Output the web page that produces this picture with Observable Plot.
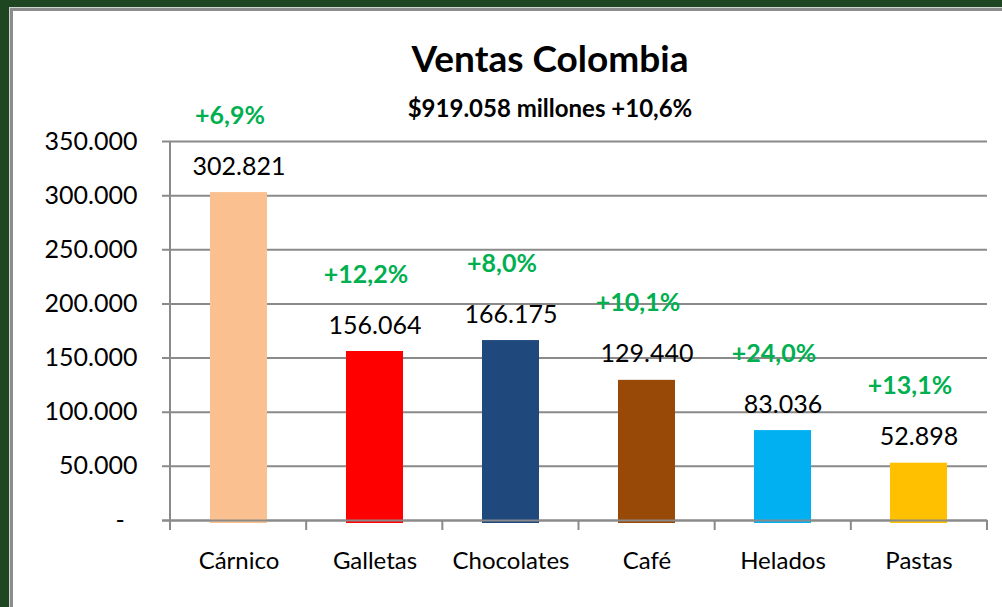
<!DOCTYPE html>
<html><head><meta charset="utf-8">
<script src="https://cdn.jsdelivr.net/npm/d3@7"></script>
<script src="https://cdn.jsdelivr.net/npm/@observablehq/plot@0.6"></script>
<style>
html,body{margin:0;padding:0;width:100%;height:100%;overflow:hidden;background:#fff;font-family:Lato,sans-serif;}
#bandTop{position:absolute;left:0;top:0;width:1200px;height:7px;background:#1e4621;}
#bandLeft{position:absolute;left:0;top:0;width:9px;height:800px;background:#1e4621;}
#panel{position:absolute;left:9px;top:7px;width:1100px;height:700px;background:#fff;border-left:1px solid #cfd6cf;border-top:1px solid #cfd6cf;}
#inner{position:absolute;left:0;top:0;right:0;bottom:0;border-left:3px solid #8c8c8c;border-top:3px solid #8c8c8c;}
#chart{position:absolute;left:0;top:0;width:989px;}
#chart svg{max-width:none;}
.t{position:absolute;left:550px;transform:translateX(-50%);white-space:nowrap;font-weight:bold;color:#000;line-height:1;z-index:2;}
#title{top:39px;font-size:37px;}
#subtitle{top:96px;font-size:24px;}
</style></head>
<body>
<div id="bandTop"></div><div id="bandLeft"></div>
<div id="panel"><div id="inner"><div id="chart"></div></div></div>
<div class="t" id="title"></div>
<div class="t" id="subtitle"></div>
<script>
const categories = ["Cárnico", "Galletas", "Chocolates", "Café", "Helados", "Pastas"];
const sales = [302821, 156064, 166175, 129440, 83036, 52898];
const growth = [6.9, 12.2, 8.0, 10.1, 24.0, 13.1];
const yTicks = [0, 50000, 100000, 150000, 200000, 250000, 300000, 350000];
const titleText = "Ventas Colombia";
const totalSales = 919058;
const totalGrowth = 10.6;

const barColors = ["#FAC090", "#FF0000", "#1F497D", "#984807", "#00B0F0", "#FFC000"];
const gray = "#8a8a8a";
const green = "#00B050";

const locale = d3.formatLocale({decimal: ",", thousands: ".", grouping: [3], currency: ["$", ""]});
const fmtInt = locale.format(",d");
const fmtPct = v => locale.format("+.1f")(v) + "%";

document.getElementById("title").textContent = titleText;
document.getElementById("subtitle").textContent = "$" + fmtInt(totalSales) + " millones " + fmtPct(totalGrowth);

const data = categories.map((c, i) => ({category: c, sales: sales[i], growth: growth[i]}));

function axisLines(index, scales, values, dims) {
  const g = d3.create("svg:g").attr("stroke", gray).attr("stroke-width", 2);
  const left = dims.marginLeft, right = dims.width - dims.marginRight;
  const y0 = scales.y(0), yTop = scales.y(yTicks[yTicks.length - 1]);
  const n = categories.length;
  const step = (right - left) / n;
  d3.range(n + 1).forEach(i => g.append("line")
    .attr("x1", left + i * step).attr("x2", left + i * step)
    .attr("y1", y0).attr("y2", y0 + 10));
  g.append("line").attr("x1", left).attr("x2", left).attr("y1", yTop).attr("y2", y0 + 10);
  return g.node();
}

const chart = Plot.plot({
  width: 989,
  height: 596,
  marginLeft: 157,
  marginRight: 15,
  marginTop: 130,
  marginBottom: 87,
  style: {fontFamily: "Lato, sans-serif", fontSize: "25px", background: "white", color: "black", overflow: "visible"},
  x: {domain: categories, paddingInner: 0.58, paddingOuter: 0.29},
  y: {domain: [0, 350000]},
  color: {domain: categories, range: barColors},
  marks: [
    Plot.ruleY(yTicks, {stroke: gray, strokeWidth: 2, insetLeft: -8}),
    Plot.barY(data, {x: "category", y: "sales", fill: "category", insetBottom: -3}),
    Plot.ruleY([0], {stroke: gray, strokeWidth: 2, insetLeft: -8}),
    axisLines,
    Plot.axisY({ticks: yTicks, tickFormat: d => d === 0 ? "-\u00a0\u00a0" : fmtInt(d), tickSize: 0, tickPadding: 33, fontSize: 25, label: null}),
    Plot.axisX({tickSize: 0, tickPadding: 31, fontSize: 24, label: null}),
    Plot.text(data, {x: "category", y: "sales", text: d => fmtInt(d.sales), dy: -26, fontSize: 25, fill: "black"}),
    Plot.text(data, {x: "category", y: "sales", text: d => fmtPct(d.growth), dy: -77, dx: -9, fontSize: 25, fontWeight: "bold", fill: green})
  ]
});
document.getElementById("chart").appendChild(chart);
</script>
</body></html>
